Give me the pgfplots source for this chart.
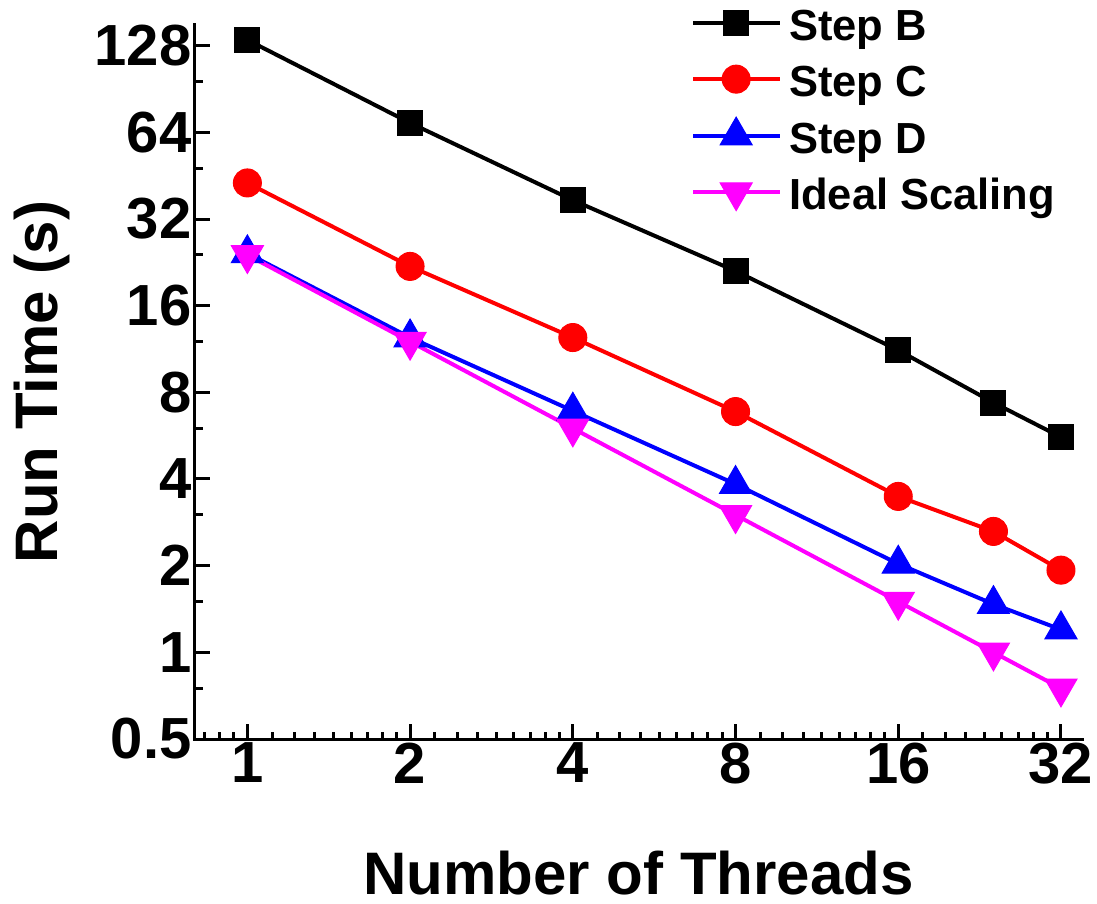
\documentclass[border=0pt]{standalone}
\usepackage{pgfplots}
\pgfplotsset{compat=1.18}
\usepackage{fontspec}
\setmainfont{Liberation Sans}
\definecolor{cB}{RGB}{0,0,0}
\definecolor{cC}{RGB}{255,0,0}
\definecolor{cD}{RGB}{0,0,255}
\definecolor{cI}{RGB}{255,0,255}
\begin{document}
\begin{tikzpicture}[x=1pt,y=1pt]
\path[use as bounding box] (-195pt,-164pt) rectangle (902pt,739pt);
\begin{axis}[
  scale only axis,
  width=887pt, height=714pt,
  at={(0pt,0pt)}, anchor=south west,
  xmode=log, ymode=log,
  log basis x=2, log basis y=2,
  xmin=0.8, xmax=35,
  ymin=0.5, ymax=151,
  axis x line*=bottom, axis y line*=left,
  axis line style={line width=3pt, line cap=rect},
  clip=false,
  xtick={1,2,4,8,16,32},
  xticklabels={1,2,4,8,16,32},
  ytick={0.5,1,2,4,8,16,32,64,128},
  yticklabels={0.5,1,2,4,8,16,32,64,128},
  minor tick num=0,
  extra x ticks={0.8333,0.8889,0.9444,
    1.1111,1.2222,1.3333,1.4444,1.5556,1.6667,1.7778,1.8889,
    2.2222,2.4444,2.6667,2.8889,3.1111,3.3333,3.5556,3.7778,
    4.4444,4.8889,5.3333,5.7778,6.2222,6.6667,7.1111,7.5556,
    8.8889,9.7778,10.6667,11.5556,12.4444,13.3333,14.2222,15.1111,
    17.7778,19.5556,21.3333,23.1111,24.8889,26.6667,28.4444,30.2222},
  extra x tick style={major tick length=7pt, xticklabel={}},
  extra y ticks={0.75,1.5,3,6,12,24,48,96},
  extra y tick style={major tick length=8pt, yticklabel={}},
  tick align=inside,
  major tick length=15pt,
  every tick/.style={line width=3pt, black},
  /pgf/number format/assume math mode=true,
  tick label style={font=\fontsize{58}{60}\selectfont\bfseries},
  label style={font=\fontsize{60}{64}\selectfont\bfseries},
  xlabel={Number of Threads},
  ylabel={Run Time (s)},
  xlabel style={at={(axis description cs:0.5,-0.188)}, anchor=center},
  ylabel style={at={(axis description cs:-0.1725,0.5)}, anchor=center, rotate=0},
  legend style={draw=none, fill=none, inner sep=0pt,
    at={(rel axis cs:0.5614,1.0246)}, anchor=north west,
    font=\fontsize{43.5}{48}\selectfont\bfseries,
    row sep=21.5pt,
    nodes={inner sep=0pt, text height=0.75em, text depth=0.25em}},
  legend cell align=left,
  legend image code/.code={%
    \draw[#1, overlay, mark repeat=2, mark phase=2] plot coordinates {(0pt,15pt) (43pt,15pt) (87pt,15pt)};
    \path[draw=none, fill=none] (0pt,0pt) rectangle (96pt,30pt);},
  every axis plot/.append style={line width=4pt},
]
\addplot[color=cB, mark=square*, mark size=12.5pt, mark options={line width=1pt}]
  coordinates {(1,134) (2,69) (4,37.2) (8,21.1) (16,11.2) (24,7.37) (32,5.59)};
\addlegendentry{Step B}
\addplot[color=cC, mark=*, mark size=14pt, mark options={line width=1pt}]
  coordinates {(1,42.7) (2,21.9) (4,12.4) (8,6.86) (16,3.48) (24,2.63) (32,1.93)};
\addlegendentry{Step C}
\addplot[color=cD, mark=triangle*, mark size=18.5pt, mark options={line width=1pt}]
  coordinates {(1,24.3) (2,12.4) (4,6.9) (8,3.84) (16,2.03) (24,1.47) (32,1.2)};
\addlegendentry{Step D}
\addplot[color=cI, mark=triangle*, mark size=18.5pt, mark options={line width=1pt, rotate=180}]
  coordinates {(1,24) (2,12) (4,6) (8,3) (16,1.5) (24,1) (32,0.75)};
\addlegendentry{Ideal Scaling}
\end{axis}
\end{tikzpicture}
\end{document}
